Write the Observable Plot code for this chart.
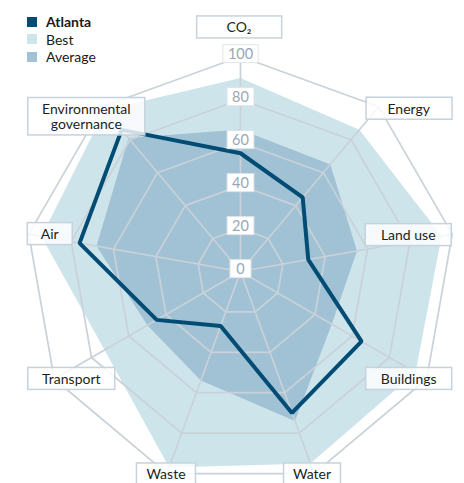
<!DOCTYPE html>
<html><head><meta charset="utf-8">
<script src="https://cdn.jsdelivr.net/npm/d3@7"></script>
<script src="https://cdn.jsdelivr.net/npm/@observablehq/plot@0.6"></script>
<style>
body{margin:0;background:#fff;font-family:Lato,"Noto Sans",sans-serif;}
#wrap{position:relative;width:464px;height:483px;overflow:hidden;}
#legend{position:absolute;left:27px;top:13px;font-size:14px;color:#1a1a1a;line-height:17.5px;}
.item{display:flex;align-items:center;}
.sw{width:10px;height:10px;margin-right:9px;flex:none;}
</style></head><body>
<div id="wrap"><div id="chart"></div><div id="legend"></div></div>
<script>
// ---- data ----
const axes = ["CO₂", "Energy", "Land use", "Buildings", "Water", "Waste", "Transport", "Air", "Environmental governance"];
const atlanta = [55, 45, 32, 65, 70, 27, 45, 76, 86];
const best    = [90, 86, 95, 94, 95, 97, 73, 94, 98];
const average = [66, 65, 55, 49, 74, 54, 50, 68, 81];
const seriesNames = ["Atlanta", "Best", "Average"];
const tickValues = [0, 20, 40, 60, 80, 100];
const tickLabels = ["0", "20", "40", "60", "80", "100"];

// ---- layout / style ----
const W = 464, H = 483, CX = 240, CY = 271, K = 2.15;
const colors = {Atlanta: "#004c74", Best: "#cee4eb", Average: "#a1c1d4"};
const gridColor = "#c9d2d9";
const labelOffsets = [[-1.5,-29],[30,2],[-44,1],[-18,0],[-2,1],[-1,1],[17,0],[21,0],[-16,10]];
const labelBoxW = [85, 86, 86, 86, 57, 59, 87, 45, 117];

const n = axes.length;
const ang = i => 2 * Math.PI * i / n;
const pt = (i, v) => ({x: v * Math.sin(ang(i)), y: v * Math.cos(ang(i))});
const poly = vals => vals.map((v, i) => ({axis: axes[i], ...pt(i, v)}));
const rings = tickValues.filter(t => t > 0).flatMap(t => axes.map((a, i) => ({ring: t, ...pt(i, t)})));
const spokes = axes.map((a, i) => ({axis: a, ...pt(i, tickValues[tickValues.length - 1])}));

const labelMarks = spokes.map((s, i) => Plot.text([s], {
  x: "x", y: "y",
  text: d => d.axis === "Environmental governance" ? "Environmental\ngovernance" : d.axis,
  dx: labelOffsets[i][0], dy: labelOffsets[i][1],
  fontSize: 14, fill: "#231f20", lineHeight: 1.1, ariaLabel: () => "axislabel"
}));

const chart = Plot.plot({
  width: W, height: H, margin: 0,
  x: {domain: [-CX / K, (W - CX) / K], range: [0, W], axis: null},
  y: {domain: [-(H - CY) / K, CY / K], range: [H, 0], axis: null},
  style: {fontFamily: "Lato, 'Noto Sans', sans-serif", fontSize: "14px", background: "transparent"},
  marks: [
    Plot.line(poly(best), {x: "x", y: "y", curve: "linear-closed", fill: colors.Best, stroke: "none"}),
    Plot.line(poly(average), {x: "x", y: "y", curve: "linear-closed", fill: colors.Average, stroke: "none"}),
    Plot.line(rings, {x: "x", y: "y", z: "ring", curve: "linear-closed", stroke: gridColor, strokeWidth: 1.7}),
    Plot.link(spokes, {x1: 0, y1: 0, x2: "x", y2: "y", stroke: gridColor, strokeWidth: 1.7}),
    Plot.line(poly(atlanta), {x: "x", y: "y", curve: "linear-closed", stroke: colors.Atlanta, strokeWidth: 4, strokeLinejoin: "miter"}),
    Plot.text(tickValues, {x: 0, y: d => d, text: (d, i) => tickLabels[i], fill: "#97a8b6", fontSize: 14.5, dy: -2, ariaLabel: () => "ticklabel"}),
    ...labelMarks
  ]
});
document.getElementById("chart").append(chart);

// boxes behind labels (same local transform as the text)
function boxes(selector, fn) {
  const nodes = Array.from(chart.querySelectorAll(selector));
  nodes.forEach((node, i) => {
    const b = node.getBBox();
    const r = document.createElementNS("http://www.w3.org/2000/svg", "rect");
    const tr = node.getAttribute("transform");
    if (tr) r.setAttribute("transform", tr);
    fn(r, b, i);
    node.parentNode.insertBefore(r, node);
  });
}
boxes('text[aria-label="ticklabel"]', (r, b) => {
  const w = Math.max(21, b.width + 10), cx = b.x + b.width / 2;
  r.setAttribute("x", cx - w / 2); r.setAttribute("y", b.y + b.height / 2 - 9);
  r.setAttribute("width", w); r.setAttribute("height", 18);
  r.setAttribute("fill", "#fff"); r.setAttribute("stroke", "#dfe5ea"); r.setAttribute("stroke-width", 1);
});
boxes('text[aria-label="axislabel"]', (r, b, i) => {
  const w = labelBoxW[i], h = b.height + 5, cx = b.x + b.width / 2, cy = b.y + b.height / 2;
  r.setAttribute("x", cx - w / 2); r.setAttribute("y", cy - h / 2);
  r.setAttribute("width", w); r.setAttribute("height", h);
  r.setAttribute("fill", "#fff"); r.setAttribute("fill-opacity", 0.82);
  r.setAttribute("stroke", "#c6d3dc"); r.setAttribute("stroke-width", 1.5);
});

// legend
const legend = document.getElementById("legend");
seriesNames.forEach(name => {
  const it = document.createElement("div"); it.className = "item";
  const sw = document.createElement("div"); sw.className = "sw"; sw.style.background = colors[name];
  const tx = document.createElement("span"); tx.textContent = name;
  if (name === "Atlanta") tx.style.fontWeight = "bold";
  it.append(sw, tx); legend.append(it);
});
</script>
</body></html>
